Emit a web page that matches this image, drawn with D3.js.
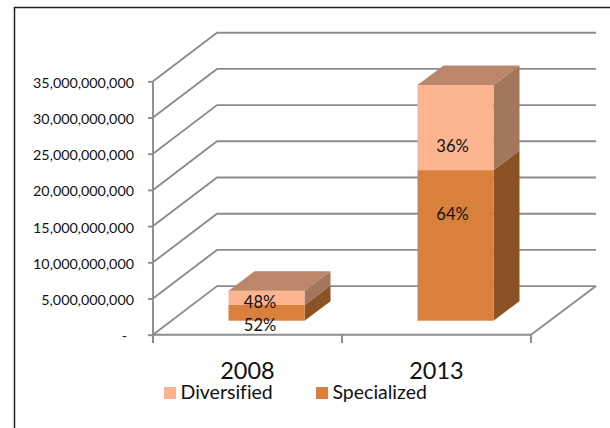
<html>
<head>
<script src="https://d3js.org/d3.v7.min.js"></script>
<style>
  body { margin: 0; background: #fff; }
  text { font-family: Lato, sans-serif; fill: #111; font-variant-ligatures: none; }
  .grid { fill: none; stroke: #8c8c8c; stroke-width: 1.9; }
  .axis path, .axis line { stroke: #8c8c8c; stroke-width: 1.9; }
</style>
</head>
<body>
<svg id="chart" width="610" height="428" style="display:block"></svg>
<script>
var years = ["2008", "2013"];
var seriesNames = ["Diversified", "Specialized"];
var specialized = [2170000000, 20800000000];
var diversified = [1980000000, 11750000000];
var specializedLabels = ["52%", "64%"];
var diversifiedLabels = ["48%", "36%"];
var yTicks = [0, 5000000000, 10000000000, 15000000000, 20000000000, 25000000000, 30000000000, 35000000000];

var colors = {
  Diversified: { front: "#fbb48f", side: "#a2775c", top: "#bb8669" },
  Specialized: { front: "#d9813c", side: "#8a5326", top: "#bb8669" }
};

var svg = d3.select("#chart");

// chart frame, only top and left show in the picture
svg.append("path").attr("d", "M14.5,428V7.5H610").attr("fill", "none").attr("stroke", "#222").attr("stroke-width", 1.5);

var x = d3.scaleBand().domain(years).range([153, 531]);
var y = d3.scaleLinear().domain([0, 35000000000]).range([334.7, 81.3]);

// 3d offsets
var wallDx = 64, wallDy = -48.6;
var barDx = 26, barDy = -19.5;
var barLift = -14;
var barW = 76, barShift = 19;

// walls and floor
yTicks.forEach(function(t) {
  var p = d3.path();
  p.moveTo(153, y(t));
  p.lineTo(153 + wallDx, y(t) + wallDy);
  p.lineTo(x.range()[1] + wallDx + 1, y(t) + wallDy);
  svg.append("path").attr("class", "grid").attr("d", p);
});
svg.append("path").attr("class", "grid")
  .attr("d", "M" + x.range()[0] + "," + y(0) + "H" + x.range()[1] + "L" + (x.range()[1] + wallDx + 1) + "," + (y(0) + wallDy));

// axes
var yAxis = d3.axisLeft(y).tickValues(yTicks).tickSizeOuter(0).tickSize(5).tickPadding(14)
  .tickFormat(function(d) { return d === 0 ? "-" : d3.format(",")(d); });
var gy = svg.append("g").attr("class", "axis").attr("transform", "translate(153,0)").call(yAxis);
gy.selectAll("text").attr("font-size", 14.3).attr("dy", "0.42em").style("font-family", "Lato, sans-serif");
gy.selectAll("text").filter(function(d) { return d === 0; }).attr("dx", -7);
gy.select(".domain").attr("d", "M0," + y(35000000000) + "V343");

var xAxis = d3.axisBottom(x).tickSize(0).tickPadding(28);
var gx = svg.append("g").attr("class", "axis").attr("transform", "translate(0," + y(0) + ")").call(xAxis);
gx.select(".domain").remove();
gx.selectAll("text").attr("font-size", 23.5).style("font-family", "Lato, sans-serif");
[0, 1, 2].forEach(function(i) {
  svg.append("line").attr("x1", 153 + i * x.step()).attr("x2", 153 + i * x.step())
    .attr("y1", y(0)).attr("y2", 343).attr("stroke", "#8c8c8c").attr("stroke-width", 1.9);
});

// stacked boxes
function box(name, year, from, to) {
  var c = colors[name];
  var x0 = x(year) + x.step() / 2 + barShift - barW / 2, x1 = x0 + barW;
  var yb = y(from) + barLift, yt = y(to) + barLift;
  var g = svg.append("g");
  g.append("path").attr("fill", c.side)
    .attr("d", "M" + x1 + "," + yb + "L" + (x1 + barDx) + "," + (yb + barDy) + "V" + (yt + barDy) + "L" + x1 + "," + yt + "Z");
  g.append("rect").attr("x", x0).attr("y", yt).attr("width", barW).attr("height", yb - yt).attr("fill", c.front);
}
function boxTop(year, top) {
  var x0 = x(year) + x.step() / 2 + barShift - barW / 2, x1 = x0 + barW;
  var yt = y(top) + barLift;
  svg.append("path").attr("fill", colors.Diversified.top)
    .attr("d", "M" + x0 + "," + yt + "H" + x1 + "L" + (x1 + barDx) + "," + (yt + barDy) + "H" + (x0 + barDx) + "Z");
}
years.forEach(function(yr, i) {
  box("Specialized", yr, 0, specialized[i]);
  box("Diversified", yr, specialized[i], specialized[i] + diversified[i]);
  boxTop(yr, specialized[i] + diversified[i]);
});

// data labels, excel put them off the segment centres
var specNudge = [[-6.5, 12], [-3, -31]];
var divNudge = [[-6.5, 4], [-3, 19]];
function dataLabel(txt, year, from, to, nudge) {
  svg.append("text")
    .attr("x", x(year) + x.step() / 2 + barShift + nudge[0])
    .attr("y", y((from + to) / 2) + barLift + nudge[1])
    .attr("dy", "0.35em")
    .attr("text-anchor", "middle")
    .attr("font-size", 16.5)
    .text(txt);
}
years.forEach(function(yr, i) {
  dataLabel(specializedLabels[i], yr, 0, specialized[i], specNudge[i]);
  dataLabel(diversifiedLabels[i], yr, specialized[i], specialized[i] + diversified[i], divNudge[i]);
});

// legend
var legendX = d3.scaleOrdinal().domain(seriesNames).range([164, 316]);
seriesNames.forEach(function(name) {
  svg.append("rect").attr("x", legendX(name)).attr("y", 387).attr("width", 12).attr("height", 12).attr("fill", colors[name].front);
  svg.append("text").attr("x", legendX(name) + 16.5).attr("y", 392.5).attr("dy", "0.35em").attr("font-size", 19.5).text(name);
});
</script>
</body>
</html>
